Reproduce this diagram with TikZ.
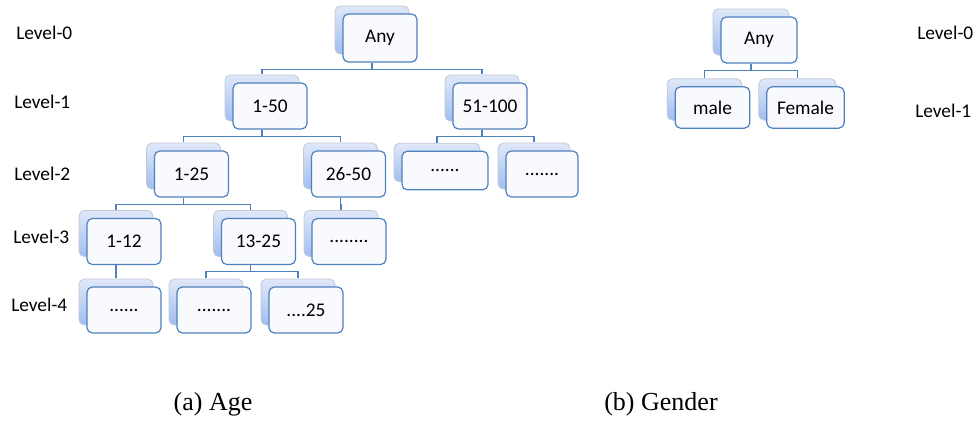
\documentclass[tikz,border=0pt]{standalone}
\usepackage{fontspec}
\setmainfont{Carlito}
\newfontfamily\capfont{Liberation Serif}
\usetikzlibrary{shadows,positioning}
\definecolor{boxline}{RGB}{79,129,189}
\definecolor{boxfill}{RGB}{248,250,254}
\definecolor{backtop}{RGB}{224,232,248}
\definecolor{backbot}{RGB}{160,190,240}
\definecolor{backline}{RGB}{192,200,214}
\tikzset{
  level/.style={font=\fontsize{14.5}{17}\selectfont, anchor=west, inner sep=0pt},
  box/.style={draw=boxline, fill=boxfill, rounded corners=4pt, line width=0.9pt,
    minimum width=55.5pt, minimum height=34.5pt, inner sep=1pt,
    font=\fontsize{14.5}{17}\selectfont,
    copy shadow={shadow xshift=-6pt, shadow yshift=6pt, draw=backline,
      line width=0.6pt, top color=backtop, bottom color=backbot}},
  link/.style={draw=boxline, line width=1pt},
  caption/.style={font=\capfont\fontsize{19.5}{22}\selectfont}
}
\begin{document}
\begin{tikzpicture}[x=0.75pt, y=-0.75pt]
    \useasboundingbox (0,0) rectangle (979,422);

    % level labels
    \node[level] (l0) at (16,33) {Level-0};
    \node[level] (l1) at (14,102) {Level-1};
    \node[level] (l2) at (14,174) {Level-2};
    \node[level] (l3) at (13,237) {Level-3};
    \node[level] (l4) at (11,305) {Level-4};
    \node[level] (r0) at (917,33) {Level-0};
    \node[level] (r1) at (915,111) {Level-1};

    % age hierarchy
    \node[box, minimum height=36pt] (any) at (380,38) {Any};
    \node[box] (a150) at (270,106) {1-50};
    \node[box] (a51100) at (490,106) {51-100};
    \node[box] (a125) at (191.5,174) {1-25};
    \node[box] (a2650) at (348.5,174) {26-50};
    \node[box, minimum width=64.5pt, minimum height=29pt] (da) at (445,170.5) {......};
    \node[box, minimum width=54pt] (db) at (542,174) {.......};
    \node[box] (a112) at (124,241.5) {1-12};
    \node[box] (a1325) at (258.5,241.5) {13-25};
    \node[box] (dc) at (349,241.5) {........};
    \node[box] (dd) at (124,310) {......};
    \node[box] (de) at (214,310) {.......};
    \node[box] (a25) at (306,310) {....25};

    % gender hierarchy
    \node[box, minimum width=57pt] (gany) at (759,40) {Any};
    \node[box, minimum width=56pt, minimum height=31pt] (male) at (712.5,107.5) {male};
    \node[box, minimum width=58pt, minimum height=31pt] (female) at (805.5,107.5) {Female};

    % connectors
    \foreach \p/\c in {any/a150, any/a51100, a150/a125, a150/a2650,
      a51100/da, a51100/db, a125/a112, a125/a1325, a2650/dc,
      a112/dd, a1325/de, a1325/a25, gany/male, gany/female}
      \draw[link] ([xshift=-6pt]\p.south) -- ++(0,-5pt) -| ([xshift=-6pt,yshift=6pt]\c.north);

    % captions
    \node[caption] (capa) at (213,404) {(a) Age};
    \node[caption] (capb) at (661,404) {(b) Gender};
  \end{tikzpicture}
\end{document}
